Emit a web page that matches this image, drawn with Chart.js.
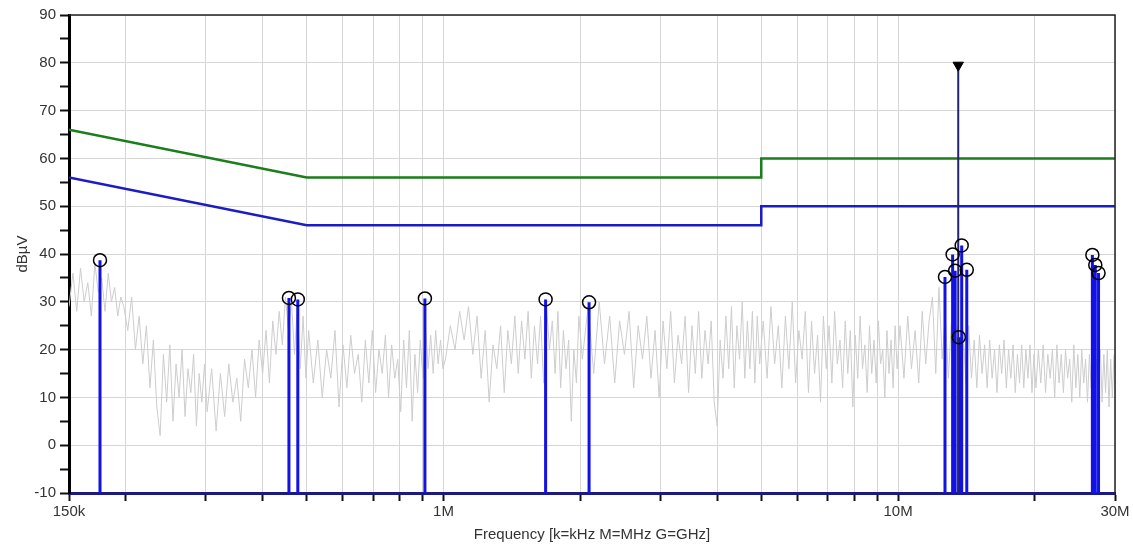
<!DOCTYPE html>
<html>
<head>
<meta charset="utf-8">
<title>Conducted emission scan</title>
<script src="https://cdn.jsdelivr.net/npm/chart.js@4.4.1/dist/chart.umd.min.js"></script>
<style>
  html, body { margin: 0; padding: 0; background: #fff; }
  #wrap { width: 1133px; height: 550px; }
</style>
</head>
<body>
<div id="wrap"><canvas id="scanChart" width="1133" height="550"></canvas></div>
<script>
// All frequencies in kHz, levels in dBuV

// Pre-scan trace (peak detector sweep)
const noiseFreqs = [
    150, 153, 156, 159, 162, 165, 168, 171, 174, 177, 180, 183, 186, 189, 192, 195, 198,
    202, 206, 210, 214, 218, 222, 226, 230, 234, 238, 242, 246, 250, 254, 258, 262, 266, 270, 274, 278, 282, 286, 290, 294, 298,
    302, 309, 316, 323, 330, 337, 344, 351, 358, 365, 372, 379, 386, 393, 400, 407, 414, 421, 428, 435, 442, 449, 456, 463, 470, 477, 484, 491, 498,
    505, 517, 529, 541, 553, 565, 577, 589, 601, 613, 625, 637, 649, 661, 673, 685, 697, 709, 721, 733, 745, 757, 769, 781, 793, 805, 817, 829, 841, 853, 865, 877, 889, 901, 913, 925, 937, 949, 961, 973, 985, 997,
    1010, 1035, 1060, 1085, 1110, 1135, 1160, 1185, 1210, 1235, 1260, 1285, 1310, 1335, 1360, 1385, 1410, 1435, 1460, 1485, 1510, 1535, 1560, 1585, 1610, 1635, 1660, 1685, 1710, 1735, 1760, 1785, 1810, 1835, 1860, 1885, 1910, 1935, 1960, 1985,
    2020, 2080, 2140, 2200, 2260, 2320, 2380, 2440, 2500, 2560, 2620, 2680, 2740, 2800, 2860, 2920, 2980, 3040, 3100, 3160, 3220, 3280, 3340, 3400, 3460, 3520, 3580, 3640, 3700, 3760, 3820, 3880, 3940, 4000, 4060, 4120, 4180, 4240, 4300, 4360, 4420, 4480, 4540, 4600, 4660, 4720, 4780, 4840, 4900, 4960,
    5050, 5150, 5250, 5350, 5450, 5550, 5650, 5750, 5850, 5950, 6050, 6150, 6250, 6350, 6450, 6550, 6650, 6750, 6850, 6950, 7050, 7150, 7250, 7350, 7450, 7550, 7650, 7750, 7850, 7950, 8050, 8150, 8250, 8350, 8450, 8550, 8650, 8750, 8850, 8950, 9050, 9150, 9250, 9350, 9450, 9550, 9650, 9750, 9850, 9950,
    10100, 10300, 10500, 10700, 10900, 11100, 11300, 11500, 11700, 11900, 12100, 12300, 12500, 12700, 12900, 13100, 13300, 13500, 13700, 13900, 14100, 14300, 14500, 14700, 14900, 15100, 15300, 15500, 15700, 15900, 16100, 16300, 16500, 16700, 16900, 17100, 17300, 17500, 17700, 17900, 18100, 18300, 18500, 18700, 18900, 19100, 19300, 19500, 19700, 19900,
    20100, 20350, 20600, 20850, 21100, 21350, 21600, 21850, 22100, 22350, 22600, 22850, 23100, 23350, 23600, 23850, 24100, 24350, 24600, 24850, 25100, 25350, 25600, 25850, 26100, 26350, 26600, 26850, 27100, 27350, 27600, 27850, 28100, 28350, 28600, 28850, 29100, 29350, 29600, 29850
];
const noiseLevels = [
    29, 36, 28, 37, 30, 34, 27, 38, 32, 35, 28, 36, 30, 33, 27, 31, 29,
    24, 31, 20, 27, 17, 25, 12, 22, 8, 2, 19, 9, 21, 5, 17, 10, 20, 6, 16, 11, 19, 4, 15, 9, 17,
    7, 16, 3, 15, 6, 17, 9, 14, 5, 18, 12, 20, 10, 22, 15, 24, 13, 26, 19, 28, 21, 31, 24, 30, 19, 29, 16, 27, 14,
    24, 13, 22, 10, 20, 14, 24, 8, 21, 12, 23, 15, 19, 9, 22, 13, 24, 11, 20, 15, 23, 10, 21, 14, 18, 7, 22, 12, 24, 5, 19, 11, 22, 14, 25, 16, 23, 15, 24, 17, 22, 16,
    18, 25, 20, 28, 22, 29, 19, 27, 14, 24, 9, 21, 16, 25, 11, 24, 17, 27, 15, 26, 18, 28, 14, 25, 17, 27, 13, 29, 20, 26, 15, 28, 12, 24, 16, 22, 5, 20, 13, 27,
    18, 29, 15, 30, 17, 27, 13, 26, 19, 28, 12, 25, 18, 27, 14, 24, 10, 26, 16, 28, 13, 23, 17, 27, 11, 25, 15, 28, 14, 24, 17, 26, 9, 4, 22, 14, 27, 16, 29, 12, 25, 18, 30, 14, 26, 16, 28, 13, 27, 17,
    26, 14, 29, 17, 25, 12, 27, 16, 30, 13, 24, 18, 28, 11, 26, 15, 23, 9, 27, 16, 25, 13, 28, 17, 22, 12, 26, 15, 24, 8, 23, 14, 27, 16, 21, 11, 25, 15, 22, 13, 26, 17, 20, 10, 24, 15, 22, 12, 25, 16,
    25, 14, 27, 16, 24, 13, 28, 17, 26, 31, 15, 33, 18, 27, 14, 26, 17, 25, 15, 24, 13, 25, 14, 22, 12, 23, 15, 21, 12, 22, 14, 20, 11, 21, 15, 22, 12, 20, 14, 21, 11, 19, 13, 21, 12, 20, 14, 21, 11, 19,
    12, 20, 13, 21, 11, 19, 14, 20, 10, 21, 13, 19, 11, 20, 14, 18, 9, 21, 12, 19, 10, 20, 13, 18, 9, 19, 12, 21, 10, 18, 13, 20, 9, 19, 11, 20, 8, 18, 10, 19
];

// Limit lines (QP and AV)
const limitFreqs = [150, 500, 5000, 5000, 30000];
const qpLimit = [66, 56, 56, 60, 60];
const avLimit = [56, 46, 46, 50, 50];

// Final measurement peaks
const peakFreqs = [175.5, 457, 478, 910, 1677, 2090, 12680, 13180, 13350, 13600, 13800, 14160, 26750, 27150, 27600];
const peakLevels = [38.7, 30.8, 30.5, 30.7, 30.5, 29.9, 35.2, 39.9, 36.5, 22.6, 41.8, 36.7, 39.8, 37.7, 36.0];

// Highest reading
const maxFreq = [13560];
const maxLevel = [79.5];

// Axis ticks
const xTickValues = [150, 200, 300, 400, 500, 600, 700, 800, 900, 1000, 2000, 3000, 4000, 5000, 6000, 7000, 8000, 9000, 10000, 20000, 30000];
const xLabelValues = [150, 1000, 10000, 30000];
const xLabelText = ['150k', '1M', '10M', '30M'];
const yMin = -10;
const yMax = 90;

const floor = yMin;

const noisePoints = noiseFreqs.map((f, i) => ({ x: f, y: noiseLevels[i] }));
const qpPoints = limitFreqs.map((f, i) => ({ x: f, y: qpLimit[i] }));
const avPoints = limitFreqs.map((f, i) => ({ x: f, y: avLimit[i] }));
const stemPoints = peakFreqs.flatMap((f, i) => [{ x: f, y: floor }, { x: f, y: peakLevels[i] }, { x: f, y: null }]);
const peakPoints = peakFreqs.map((f, i) => ({ x: f, y: peakLevels[i] }));
const maxStem = maxFreq.flatMap((f, i) => [{ x: f, y: floor }, { x: f, y: maxLevel[i] }]);
const maxPoints = maxFreq.map((f, i) => ({ x: f, y: maxLevel[i] }));

// top and right frame lines of the plot box
const frameLines = {
    id: 'frameLines',
    afterDraw(chart) {
        const { ctx, chartArea: a } = chart;
        ctx.save();
        ctx.strokeStyle = '#222';
        ctx.lineWidth = 1.5;
        ctx.beginPath();
        ctx.moveTo(a.left, a.top);
        ctx.lineTo(a.right, a.top);
        ctx.lineTo(a.right, a.bottom);
        ctx.stroke();
        ctx.restore();
    }
};

const tickFont = { family: 'Arial, "Liberation Sans", sans-serif', size: 15 };

const ctx = document.getElementById('scanChart').getContext('2d');
const scanChart = new Chart(ctx, {
    type: 'line',
    data: {
        datasets: [
            {
                label: 'Peak markers',
                data: peakPoints,
                showLine: false,
                pointStyle: 'circle',
                pointRadius: 6.5,
                pointBorderWidth: 1.5,
                pointBorderColor: '#000',
                pointBackgroundColor: 'rgba(0,0,0,0)',
                order: 1
            },
            {
                label: 'Max marker',
                data: maxPoints,
                showLine: false,
                pointStyle: 'triangle',
                pointRotation: 180,
                pointRadius: 6,
                pointBorderWidth: 1,
                pointBorderColor: '#000',
                pointBackgroundColor: '#000',
                order: 2
            },
            {
                label: 'Max',
                data: maxStem,
                borderColor: '#23236e',
                borderWidth: 2,
                pointRadius: 0,
                order: 3
            },
            {
                label: 'Peaks',
                data: stemPoints,
                borderColor: '#1212e6',
                borderWidth: 3,
                pointRadius: 0,
                spanGaps: false,
                order: 4
            },
            {
                label: 'QP limit',
                data: qpPoints,
                borderColor: '#1b7d1b',
                borderWidth: 2.5,
                pointRadius: 0,
                order: 5
            },
            {
                label: 'AV limit',
                data: avPoints,
                borderColor: '#1c1cc4',
                borderWidth: 2.5,
                pointRadius: 0,
                order: 6
            },
            {
                label: 'Scan',
                data: noisePoints,
                borderColor: '#cdcdcd',
                borderWidth: 1,
                pointRadius: 0,
                order: 7
            }
        ]
    },
    options: {
        responsive: false,
        animation: false,
        devicePixelRatio: 1,
        layout: { padding: { left: 0, right: 18, top: 15, bottom: 0 } },
        plugins: {
            legend: { display: false },
            tooltip: { enabled: false }
        },
        scales: {
            x: {
                type: 'logarithmic',
                min: 150,
                max: 30000,
                afterBuildTicks: scale => {
                    scale.ticks = xTickValues.map(v => ({ value: v }));
                },
                afterFit: scale => { scale.height = 57; },
                ticks: {
                    autoSkip: false,
                    maxRotation: 0,
                    padding: 2,
                    color: '#333',
                    font: tickFont,
                    callback: value => {
                        const i = xLabelValues.indexOf(value);
                        return i >= 0 ? xLabelText[i] : '';
                    }
                },
                grid: {
                    color: '#d6d6d6',
                    lineWidth: 1,
                    tickColor: '#111',
                    tickLength: 8,
                    tickWidth: 2
                },
                border: { color: '#1a1a80', width: 3 },
                title: {
                    display: true,
                    text: 'Frequency [k=kHz M=MHz G=GHz]',
                    color: '#333',
                    font: { family: 'Arial, "Liberation Sans", sans-serif', size: 15 },
                    padding: { top: 2, bottom: 6 }
                }
            },
            y: {
                min: yMin,
                max: yMax,
                afterFit: scale => { scale.width = 69; },
                ticks: {
                    stepSize: 5,
                    padding: 4,
                    color: '#333',
                    font: tickFont,
                    callback: value => (value % 10 === 0 ? value : '')
                },
                grid: {
                    color: c => (c.tick && c.tick.value % 10 === 0 ? '#d6d6d6' : 'rgba(0,0,0,0)'),
                    lineWidth: 1,
                    tickColor: '#111',
                    tickLength: 9,
                    tickWidth: 2
                },
                border: { color: '#000', width: 3 },
                title: {
                    display: true,
                    text: 'dBµV',
                    color: '#333',
                    font: { family: 'Arial, "Liberation Sans", sans-serif', size: 15 },
                    padding: { top: 14, bottom: 0 }
                }
            }
        }
    },
    plugins: [frameLines]
});
</script>
</body>
</html>
